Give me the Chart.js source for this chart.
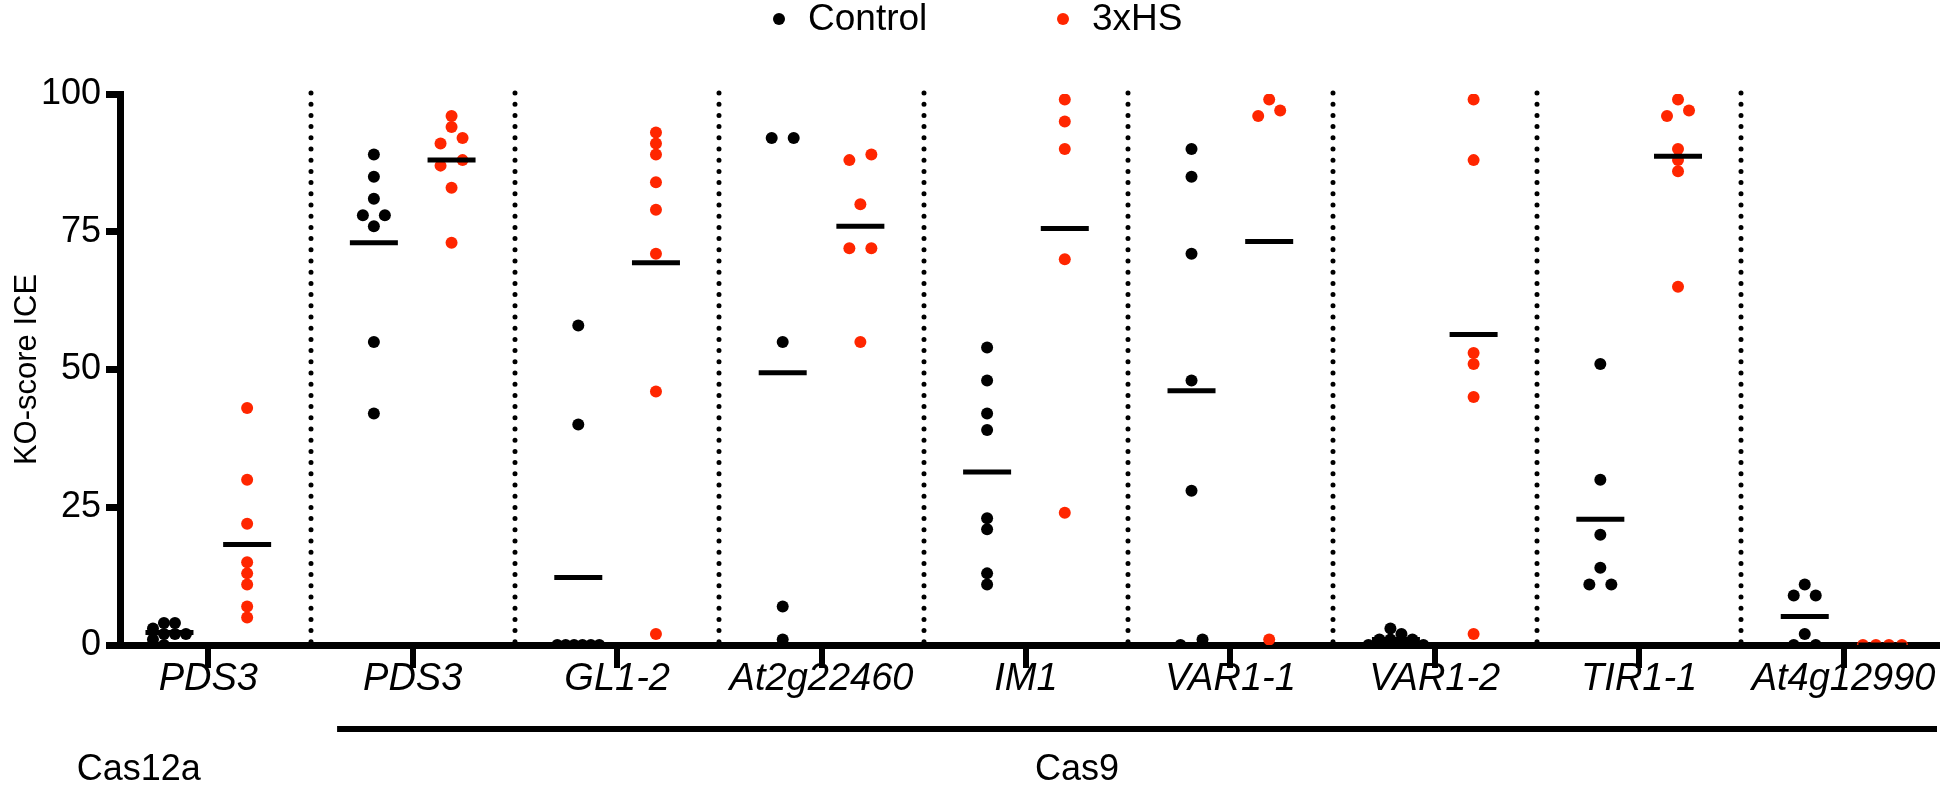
<!DOCTYPE html>
<html><head><meta charset="utf-8">
<script src="https://cdn.jsdelivr.net/npm/chart.js@4.4.1/dist/chart.umd.min.js"></script>
<style>html,body{margin:0;padding:0;background:#fff;overflow:hidden}</style>
</head><body>
<canvas id="c" width="1944" height="801"></canvas>
<script>
// ---- data ----
const categories = ['PDS3','PDS3','GL1-2','At2g22460','IM1','VAR1-1','VAR1-2','TIR1-1','At4g12990'];
const controlValues = [
  [4,4,3,2,2,2,1,0],
  [89,85,81,78,78,76,55,42],
  [58,40,0,0,0,0,0,0],
  [92,92,55,7,1],
  [54,48,42,39,23,21,13,11],
  [90,85,71,48,28,1,0],
  [3,2,1,1,1,0,0,0],
  [51,30,20,14,11,11],
  [11,9,9,2,0,0]
];
const hsValues = [
  [43,30,22,15,13,11,7,5],
  [96,94,92,91,88,87,83,73],
  [93,91,89,84,79,71,46,2],
  [89,88,80,72,72,55],
  [99,95,90,70,24],
  [99,97,96,1],
  [99,88,53,51,45,2],
  [99,97,96,90,88,86,65],
  [0,0,0,0]
];
const yTicks = [0,25,50,75,100];
const seriesNames = ['Control','3xHS'];
const groupNames = ['Cas12a','Cas9'];

// ---- styling ----
const BLACK = '#000000', RED = '#ff2600';
const FONT = "'Liberation Sans', Arial, Helvetica, sans-serif";
const GROUP_OFFSET = 0.19;       // category units
const PX_PER_X = 204.4;          // approx px per category unit
const PX_PER_Y = 5.51;           // approx px per value unit
const DOT = 11;                  // approx dot diameter, px
Chart.defaults.font.family = FONT;
Chart.defaults.color = '#000';

function mean(a){ return a.reduce((s,v)=>s+v,0)/a.length; }

// column-scatter spreading of near-equal values (returns px offsets)
function swarm(values){
  const order = values.map((v,i)=>i).sort((a,b)=>values[b]-values[a]);
  const offs = new Array(values.length).fill(0);
  const clusters = [];
  let cluster = [order[0]];
  for (let j=1;j<order.length;j++){
    const prev = order[j-1], cur = order[j];
    if (values[prev]-values[cur] < 2) cluster.push(cur);
    else { clusters.push(cluster); cluster = [cur]; }
  }
  clusters.push(cluster);
  clusters.forEach(cl=>{
    const n = cl.length;
    if (n < 2) return;
    const allSame = cl.every(i=>values[i]===values[cl[0]]);
    if (n === 2 || allSame){
      const s = n === 2 ? 2*DOT : Math.min(13, 42/(n-1));
      cl.forEach((idx,k)=>{ offs[idx] = ((n-1)/2 - k) * s; });
      return;
    }
    // greedy packing for mixed clusters
    const placed = [];
    const cands = [0, DOT, -DOT, 2*DOT, -2*DOT, 3*DOT, -3*DOT, 4*DOT, -4*DOT];
    cl.forEach(idx=>{
      const py = values[idx]*PX_PER_Y;
      for (const c of cands){
        const hit = placed.some(p=>Math.hypot(p.x-c, p.y-py) < DOT-0.01);
        if (!hit){ placed.push({x:c, y:py, idx}); break; }
      }
    });
    const xs = placed.map(p=>p.x);
    const shift = (Math.max(...xs)+Math.min(...xs))/2;
    placed.forEach(p=>{ offs[p.idx] = p.x - shift; });
  });
  return offs;
}

function pointsFor(groups, sign){
  const pts = [];
  groups.forEach((arr,i)=>{
    const offs = swarm(arr);
    arr.forEach((v,k)=>pts.push({x: i + sign*GROUP_OFFSET + offs[k]/PX_PER_X, y: v}));
  });
  return pts;
}
function meansFor(groups, sign){
  return groups.map((arr,i)=>({x: i + sign*GROUP_OFFSET, y: mean(arr)}));
}

const decor = {
  id: 'decor',
  beforeDatasetsDraw(chart){
    const {ctx, scales:{x, y}} = chart;
    ctx.save();
    ctx.strokeStyle = BLACK; ctx.lineWidth = 5; ctx.lineCap = 'round';
    ctx.setLineDash([0, 11.2]);
    const top = y.getPixelForValue(100) - 1, bot = y.getPixelForValue(0) - 3;
    for (let i=0;i<categories.length-1;i++){
      const px = Math.round(x.getPixelForValue(i+0.5));
      ctx.beginPath(); ctx.moveTo(px, top); ctx.lineTo(px, bot); ctx.stroke();
    }
    ctx.restore();
  },
  afterDraw(chart){
    const {ctx, chartArea, scales:{x}} = chart;
    ctx.save();
    // legend
    ctx.font = `37px ${FONT}`;
    ctx.textBaseline = 'middle'; ctx.textAlign = 'left';
    const legendItems = [{name: seriesNames[0], color: BLACK, x: 779}, {name: seriesNames[1], color: RED, x: 1063}];
    legendItems.forEach(it=>{
      ctx.fillStyle = it.color;
      ctx.beginPath(); ctx.arc(it.x, 19, 6, 0, Math.PI*2); ctx.fill();
      ctx.fillStyle = BLACK;
      ctx.fillText(it.name, it.x + 29, 20);
    });
    // nuclease group labels
    ctx.font = `36px ${FONT}`;
    ctx.textAlign = 'center';
    ctx.fillText(groupNames[0], x.getPixelForValue(-0.34), 770);
    ctx.fillText(groupNames[1], x.getPixelForValue(4.25), 770);
    ctx.lineWidth = 6; ctx.strokeStyle = BLACK; ctx.lineCap = 'butt';
    ctx.beginPath();
    ctx.moveTo(x.getPixelForValue(0.63), 729); ctx.lineTo(chartArea.right, 729); ctx.stroke();
    ctx.restore();
  }
};

const ctx = document.getElementById('c').getContext('2d');
new Chart(ctx, {
  type: 'scatter',
  data: {
    datasets: [
      { label: 'Control mean', data: meansFor(controlValues, -1), pointStyle: 'line', pointRadius: 24,
        borderColor: BLACK, pointBorderWidth: 5, backgroundColor: BLACK },
      { label: '3xHS mean', data: meansFor(hsValues, 1), pointStyle: 'line', pointRadius: 24,
        borderColor: BLACK, pointBorderWidth: 5, backgroundColor: BLACK },
      { label: seriesNames[0], data: pointsFor(controlValues, -1), pointStyle: 'circle', pointRadius: 6,
        backgroundColor: BLACK, borderColor: BLACK, pointBorderWidth: 0 },
      { label: seriesNames[1], data: pointsFor(hsValues, 1), pointStyle: 'circle', pointRadius: 6,
        backgroundColor: RED, borderColor: RED, pointBorderWidth: 0 }
    ]
  },
  options: {
    responsive: false, animation: false, devicePixelRatio: 1, events: [],
    layout: { autoPadding: false, padding: { left: 0, right: 7, top: 94, bottom: 0 } },
    plugins: { legend: { display: false }, tooltip: { enabled: false } },
    scales: {
      x: {
        type: 'linear', min: -0.432, max: 8.457,
        afterBuildTicks: s => { s.ticks = categories.map((c,i)=>({value: i})); },
        afterFit: s => { s.height = 156; s.paddingLeft = 0; s.paddingRight = 0; },
        ticks: { autoSkip: false, maxRotation: 0, padding: -11,
          callback: (v) => categories[v],
          font: { size: 38, style: 'italic' }, color: BLACK },
        grid: { drawOnChartArea: false, drawTicks: true, tickLength: 23, tickWidth: 6, color: BLACK, lineWidth: 6 },
        border: { display: true, width: 7, color: BLACK }
      },
      y: {
        min: 0, max: 100,
        afterBuildTicks: s => { s.ticks = yTicks.map(v=>({value: v})); },
        afterFit: s => { s.width = 120; s.paddingTop = 0; s.paddingBottom = 0; },
        ticks: { padding: 5, font: { size: 36 }, color: BLACK },
        title: { display: true, text: 'KO-score ICE', font: { size: 31 }, color: BLACK, padding: { top: 9, bottom: 0 } },
        grid: { drawOnChartArea: false, drawTicks: true, tickLength: 14, tickWidth: 7, color: BLACK, lineWidth: 7 },
        border: { display: true, width: 7, color: BLACK }
      }
    }
  },
  plugins: [decor]
});
</script>
</body></html>
